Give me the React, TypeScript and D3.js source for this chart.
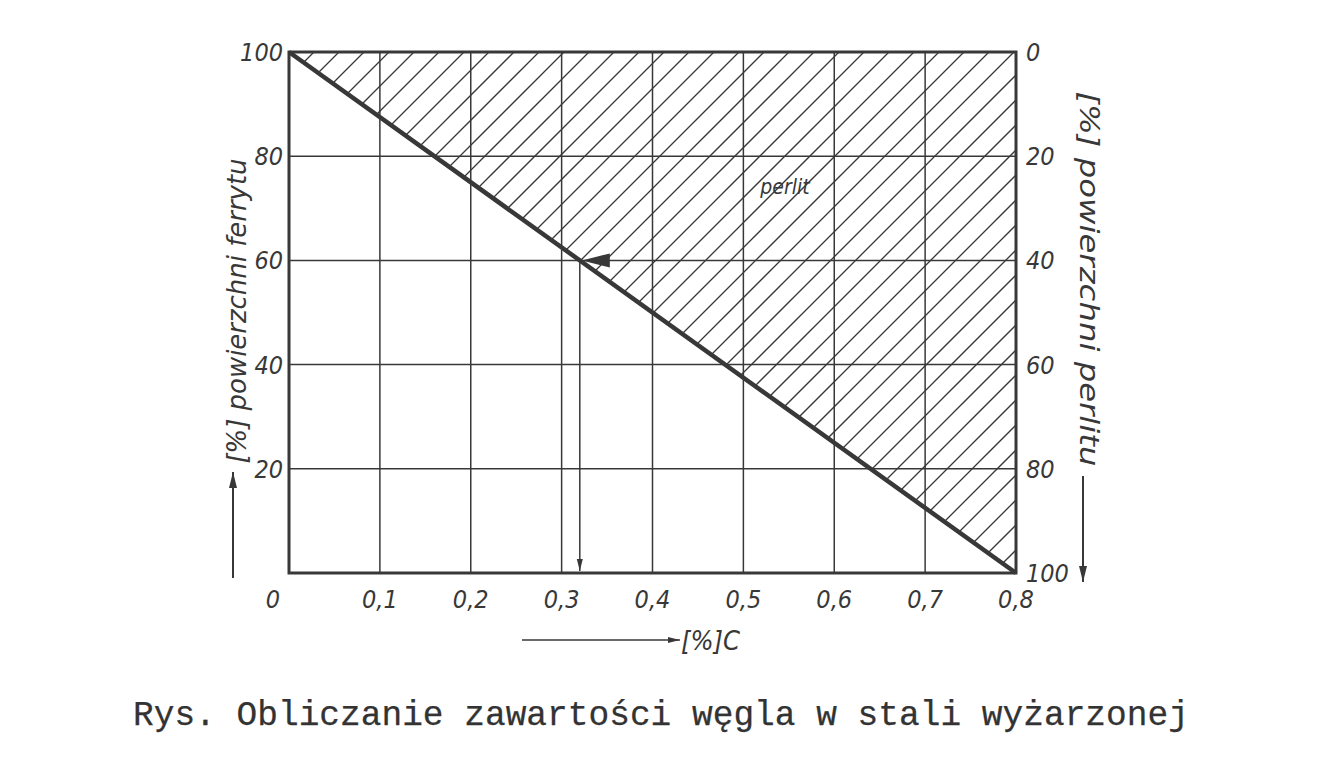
import * as d3 from "d3";

// values
const carbonTicks = [0, 0.1, 0.2, 0.3, 0.4, 0.5, 0.6, 0.7, 0.8];
const carbonLabels = ["0", "0,1", "0,2", "0,3", "0,4", "0,5", "0,6", "0,7", "0,8"];
const ferriteTicks = [20, 40, 60, 80, 100];
const pearliteTicks = [0, 20, 40, 60, 80, 100];
const ferriteLine = [
  { c: 0, ferrite: 100 },
  { c: 0.8, ferrite: 0 },
];
const example = { ferrite: 60, c: 0.32 };

const caption = "Rys. Obliczanie zawartości węgla w stali wyżarzonej";
const ink = "#383838";
const hand = "'DejaVu Sans Condensed', 'Liberation Sans Narrow', sans-serif";

export default function App() {
  const left = 289, right = 1016, top = 52, bottom = 573;
  const x = d3.scaleLinear().domain([0, 0.8]).range([left, right]);
  const y = d3.scaleLinear().domain([0, 100]).range([bottom, top]);
  const yR = d3.scaleLinear().domain([0, 100]).range([top, bottom]);

  const line = d3.line<{ c: number; ferrite: number }>()
    .x(d => x(d.c))
    .y(d => y(d.ferrite));

  // area above the line (pearlite region)
  const region = d3.area<{ c: number; ferrite: number }>()
    .x(d => x(d.c))
    .y0(() => y(100))
    .y1(d => y(d.ferrite));

  const hatchStep = 25;
  const h = bottom - top;
  const hatch = d3.range(left - h, right + hatchStep, hatchStep);

  const ex = x(example.c), ey = y(example.ferrite);

  return (
    <svg width={1344} height={764}
      style={{ position: "absolute", left: 0, top: 0, display: "block", background: "#fff" }}>
      <defs>
        <clipPath id="pearlite">
          <path d={region(ferriteLine) || ""} />
        </clipPath>
        <marker id="ah" viewBox="0 0 10 10" refX="10" refY="5" markerWidth="8" markerHeight="8" orient="auto">
          <path d="M0,2.5 L10,5 L0,7.5 Z" fill={ink} />
        </marker>
      </defs>

      {/* hatching */}
      <g clipPath="url(#pearlite)" stroke={ink} strokeWidth={1.3}>
        {hatch.map((hx, i) => (
          <line key={i} x1={hx} y1={bottom} x2={hx + h} y2={top} />
        ))}
      </g>

      {/* grid */}
      <g stroke={ink} strokeWidth={1.5}>
        {carbonTicks.slice(1, -1).map(t => (
          <line key={t} x1={x(t)} x2={x(t)} y1={top} y2={bottom} />
        ))}
        {ferriteTicks.slice(0, -1).map(t => (
          <line key={t} x1={left} x2={right} y1={y(t)} y2={y(t)} />
        ))}
      </g>

      {/* frame */}
      <rect x={left} y={top} width={right - left} height={bottom - top} fill="none" stroke={ink} strokeWidth={3} />

      {/* ferrite line */}
      <path d={line(ferriteLine) || ""} stroke={ink} strokeWidth={4.5} fill="none" />

      {/* reading example */}
      <line x1={ex} x2={ex} y1={ey} y2={bottom - 2} stroke={ink} strokeWidth={1.5} markerEnd="url(#ah)" />
      <path d={`M${ex + 2},${ey} L${ex + 30},${ey - 7} L${ex + 30},${ey + 7} Z`} fill={ink} />

      <text x={785} y={194} fontFamily={hand} fontStyle="italic" fontSize={21} fill={ink} textAnchor="middle">perlit</text>

      {/* left ticks */}
      <g fontFamily={hand} fontStyle="italic" fontSize={25} fill={ink} textAnchor="end">
        {ferriteTicks.map(t => (
          <text key={t} x={left - 6} y={y(t) + 9}>{t}</text>
        ))}
      </g>
      {/* right ticks */}
      <g fontFamily={hand} fontStyle="italic" fontSize={25} fill={ink} textAnchor="start">
        {pearliteTicks.map(t => (
          <text key={t} x={right + 10} y={yR(t) + 9}>{t}</text>
        ))}
      </g>
      {/* bottom ticks */}
      <g fontFamily={hand} fontStyle="italic" fontSize={25} fill={ink} textAnchor="middle">
        {carbonTicks.map((t, i) => (
          <text key={t} x={i === 0 ? x(t) - 16 : x(t)} y={bottom + 35}>{carbonLabels[i]}</text>
        ))}
      </g>

      {/* axis titles */}
      <text transform={`translate(246,311) rotate(-90)`} fontFamily={hand} fontStyle="italic"
        fontSize={26} fill={ink} textAnchor="middle" textLength={305} lengthAdjust="spacingAndGlyphs">[%] powierzchni ferrytu</text>
      <line x1={233} x2={233} y1={578} y2={472} stroke={ink} strokeWidth={2} markerEnd="url(#ah)" />

      <text transform={`translate(1080,279) rotate(90)`} fontFamily={hand} fontStyle="italic"
        fontSize={27} fill={ink} textAnchor="middle" textLength={375} lengthAdjust="spacingAndGlyphs">[%] powierzchni perlitu</text>
      <line x1={1083} x2={1083} y1={476} y2={582} stroke={ink} strokeWidth={2} markerEnd="url(#ah)" />

      <line x1={522} x2={680} y1={640} y2={640} stroke={ink} strokeWidth={1.5} markerEnd="url(#ah)" />
      <text x={681} y={650} fontFamily={hand} fontStyle="italic" fontSize={27} fill={ink}>[%]C</text>

      <text x={133} y={725} fontFamily="'Liberation Mono', 'DejaVu Sans Mono', monospace" fontSize={34.5}
        fill="#333" stroke="#333" strokeWidth={0.25}>
        {caption}
      </text>
    </svg>
  );
}
